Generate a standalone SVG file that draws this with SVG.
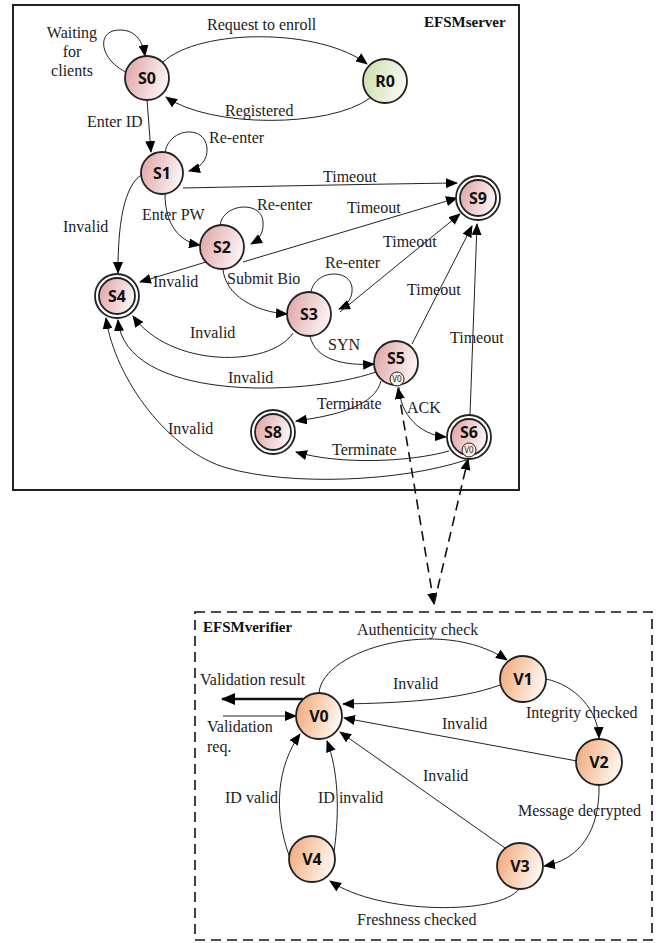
<svg xmlns="http://www.w3.org/2000/svg" width="656" height="943" viewBox="0 0 656 943">
<defs>
<linearGradient id="pink" x1="0" y1="0" x2="1" y2="0.3"><stop offset="0" stop-color="#dea0a2"/><stop offset="1" stop-color="#fbf0f0"/></linearGradient>
<linearGradient id="green" x1="0" y1="0" x2="1" y2="0.3"><stop offset="0" stop-color="#c9dca8"/><stop offset="1" stop-color="#f6f9ef"/></linearGradient>
<linearGradient id="orange" x1="0" y1="0" x2="1" y2="0.3"><stop offset="0" stop-color="#f0a472"/><stop offset="1" stop-color="#fff3ea"/></linearGradient>
<marker id="ah" markerUnits="userSpaceOnUse" markerWidth="12" markerHeight="10" refX="11" refY="5" orient="auto-start-reverse"><path d="M0,0 L12,5 L0,10 Z" fill="#000"/></marker>
<marker id="ahb" markerUnits="userSpaceOnUse" markerWidth="14" markerHeight="12" refX="13" refY="6" orient="auto"><path d="M0,0 L14,6 L0,12 Z" fill="#000"/></marker>
</defs>
<style>
.n{stroke:#222;stroke-width:1.8}
.in{fill:none;stroke:#222;stroke-width:1.3}
.nl{font-family:"Noto Sans","Liberation Sans",sans-serif;font-weight:bold;font-size:16px;text-anchor:middle;fill:#111}
.sub{font-family:"Noto Sans","Liberation Sans",sans-serif;font-size:8px;text-anchor:middle;fill:#222}
.t{font-family:"Liberation Serif","DejaVu Serif",serif;font-size:16px;fill:#222}
.title{font-family:"Liberation Serif","DejaVu Serif",serif;font-size:15px;font-weight:bold;fill:#111}
.c{fill:none;stroke:#222;stroke-width:1;marker-end:url(#ah)}
.d{fill:none;stroke:#111;stroke-width:1.6;stroke-dasharray:10 6;marker-end:url(#ah)}
</style>
<rect x="13" y="5" width="506" height="485" fill="#fff" stroke="#222" stroke-width="2"/>
<rect x="195" y="612" width="457" height="328" fill="#fff" stroke="#111" stroke-width="1.6" stroke-dasharray="10 6"/>
<text class="title" x="424" y="27">EFSMserver</text>
<text class="title" x="203" y="632">EFSMverifier</text>

<g id="connectors">
<path class="c" d="M126,72 C100,60 95,30 120,30 C136,30 143,42 145,56"/>
<path class="c" d="M163,62 C200,28 320,28 367,64"/>
<path class="c" d="M370,98 C330,128 210,128 166,97"/>
<path class="c" d="M147,100 L151,152"/>
<path class="c" d="M165,153 C168,128 205,124 207,148 C208,160 200,168 189,171"/>
<path class="c" d="M183,188 C280,186 380,184 457,183"/>
<path class="c" d="M165,194 C165,225 180,242 200,245"/>
<path class="c" d="M220,226 C222,203 262,200 263,222 C264,234 258,240 251,244"/>
<path class="c" d="M243,262 L457,198"/>
<path class="c" d="M141,175 C120,190 118,240 118,273"/>
<path class="c" d="M206,262 L140,282"/>
<path class="c" d="M223,269 C225,295 255,312 287,314"/>
<path class="c" d="M311,292 C315,268 355,268 352,292 C351,300 346,306 339,309"/>
<path class="c" d="M340,312 L460,214"/>
<path class="c" d="M293,333 C270,368 170,368 133,316"/>
<path class="c" d="M310,336 C315,360 345,366 374,364"/>
<path class="c" d="M412,344 L472,226"/>
<path class="c" d="M470,415 L477,224"/>
<path class="c" d="M376,372 C300,398 125,400 118,320"/>
<path class="c" d="M466,460 C400,482 290,486 227,468 C170,452 115,380 106,318"/>
<path class="c" d="M381,381 C375,405 340,415 296,421"/>
<path class="c" d="M449,451 C410,462 340,465 296,452"/>
<path class="c" d="M399,387 C400,415 420,435 446,437"/>
<path class="d" d="M434,604 L398,388" style="marker-start:url(#ah)"/>
<path class="d" d="M434,604 L468,459"/>

<path class="c" d="M319,693 C322,650 440,615 507,660"/>
<path class="c" d="M500,685 C460,700 400,703 343,704"/>
<path class="c" d="M546,679 C575,685 598,710 599,738"/>
<path class="c" d="M577,761 L344,718"/>
<path class="c" d="M505,848 L340,732"/>
<path class="c" d="M599,785 C600,830 580,860 544,866"/>
<path class="c" d="M519,889 C500,915 380,915 330,881"/>
<path class="c" d="M290,858 C272,810 278,765 300,734"/>
<path class="c" d="M334,852 C340,810 338,770 327,741"/>
<path fill="none" stroke="#111" stroke-width="2.6" marker-end="url(#ahb)" d="M303,699 L222,699"/>
<path class="c" d="M223,716 L296,716"/>
</g>

<g id="S0"><circle class="n" cx="147" cy="78" r="22" fill="url(#pink)"/><text class="nl" x="147" y="84">S0</text></g>
<g id="R0"><circle class="n" cx="385" cy="81" r="22" fill="url(#green)"/><text class="nl" x="385" y="87">R0</text></g>
<g id="S1"><circle class="n" cx="162" cy="173" r="21" fill="url(#pink)"/><text class="nl" x="162" y="179">S1</text></g>
<g id="S2"><circle class="n" cx="222" cy="247" r="22" fill="url(#pink)"/><text class="nl" x="222" y="253">S2</text></g>
<g id="S3"><circle class="n" cx="309" cy="314" r="22" fill="url(#pink)"/><text class="nl" x="309" y="320">S3</text></g>
<g id="S9"><circle class="n" cx="478" cy="198" r="22" fill="#fff"/><circle class="n" cx="478" cy="198" r="18" fill="url(#pink)" stroke-width="1.3"/><text class="nl" x="478" y="204">S9</text></g>
<g id="S4"><circle class="n" cx="117" cy="296" r="22" fill="#fff"/><circle class="n" cx="117" cy="296" r="18" fill="url(#pink)" stroke-width="1.3"/><text class="nl" x="117" y="302">S4</text></g>
<g id="S8"><circle class="n" cx="273" cy="432" r="22" fill="#fff"/><circle class="n" cx="273" cy="432" r="18" fill="url(#pink)" stroke-width="1.3"/><text class="nl" x="273" y="438">S8</text></g>
<g id="S5"><circle class="n" cx="396" cy="363" r="22" fill="url(#pink)"/><text class="nl" x="396" y="364">S5</text><circle cx="397" cy="379" r="7" fill="#fdf1e4" stroke="#222" stroke-width="1"/><text class="sub" x="397" y="382">V0</text></g>
<g id="S6"><circle class="n" cx="469" cy="437" r="22" fill="#fff"/><circle class="n" cx="469" cy="437" r="18" fill="url(#pink)" stroke-width="1.3"/><text class="nl" x="469" y="438">S6</text><circle cx="469" cy="450" r="7" fill="#fdf1e4" stroke="#222" stroke-width="1"/><text class="sub" x="469" y="453">V0</text></g>

<g id="V0"><circle class="n" cx="319" cy="716" r="23" fill="url(#orange)"/><text class="nl" x="319" y="722">V0</text></g>
<g id="V1"><circle class="n" cx="523" cy="679" r="23" fill="url(#orange)"/><text class="nl" x="523" y="685">V1</text></g>
<g id="V2"><circle class="n" cx="599" cy="762" r="23" fill="url(#orange)"/><text class="nl" x="599" y="768">V2</text></g>
<g id="V3"><circle class="n" cx="520" cy="866" r="23" fill="url(#orange)"/><text class="nl" x="520" y="872">V3</text></g>
<g id="V4"><circle class="n" cx="312" cy="859" r="23" fill="url(#orange)"/><text class="nl" x="312" y="865">V4</text></g>

<g id="labels">
<text class="t" x="72" y="38" text-anchor="middle">Waiting</text>
<text class="t" x="72" y="57" text-anchor="middle">for</text>
<text class="t" x="72" y="76" text-anchor="middle">clients</text>
<text class="t" x="207" y="30">Request to enroll</text>
<text class="t" x="225" y="116">Registered</text>
<text class="t" x="87" y="127">Enter ID</text>
<text class="t" x="209" y="143">Re-enter</text>
<text class="t" x="323" y="182">Timeout</text>
<text class="t" x="142" y="220">Enter PW</text>
<text class="t" x="257" y="210">Re-enter</text>
<text class="t" x="347" y="213">Timeout</text>
<text class="t" x="63" y="232">Invalid</text>
<text class="t" x="153" y="287">Invalid</text>
<text class="t" x="227" y="284">Submit Bio</text>
<text class="t" x="325" y="268">Re-enter</text>
<text class="t" x="383" y="247">Timeout</text>
<text class="t" x="407" y="295">Timeout</text>
<text class="t" x="450" y="343">Timeout</text>
<text class="t" x="190" y="338">Invalid</text>
<text class="t" x="328" y="350">SYN</text>
<text class="t" x="228" y="383">Invalid</text>
<text class="t" x="317" y="409">Terminate</text>
<text class="t" x="407" y="413">ACK</text>
<text class="t" x="168" y="434">Invalid</text>
<text class="t" x="332" y="455">Terminate</text>
<text class="t" x="357" y="635">Authenticity check</text>
<text class="t" x="200" y="685">Validation  result</text>
<text class="t" x="207" y="732">Validation</text>
<text class="t" x="207" y="752">req.</text>
<text class="t" x="393" y="689">Invalid</text>
<text class="t" x="526" y="718">Integrity checked</text>
<text class="t" x="442" y="729">Invalid</text>
<text class="t" x="423" y="781">Invalid</text>
<text class="t" x="518" y="816">Message  decrypted</text>
<text class="t" x="225" y="803">ID valid</text>
<text class="t" x="318" y="803">ID invalid</text>
<text class="t" x="357" y="925">Freshness checked</text>
</g>
</svg>
